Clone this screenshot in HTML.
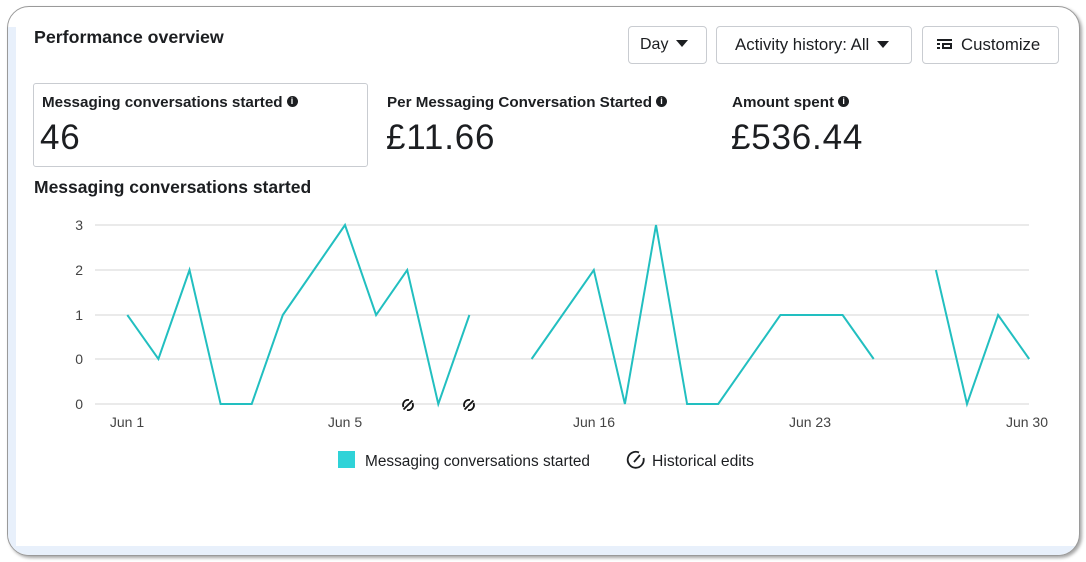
<!DOCTYPE html>
<html><head><meta charset="utf-8">
<style>
*{margin:0;padding:0;box-sizing:border-box;}
html,body{width:1086px;height:562px;background:#fff;overflow:hidden;font-family:"Liberation Sans",sans-serif;color:#1c1e21;}
.frame{position:absolute;left:7px;top:6px;width:1073px;height:550px;border:1.5px solid #9a9a9a;border-radius:22px;background:#fff;box-shadow:2px 2px 3px rgba(0,0,0,0.35);overflow:hidden;}
.lstrip{position:absolute;left:0;top:20px;width:8px;height:530px;background:#e8f0fb;}
.bstrip{position:absolute;left:0;bottom:0;width:100%;height:9px;background:#e8f0fb;}
.t{position:absolute;white-space:nowrap;}
.btn{position:absolute;top:26px;height:38px;border:1px solid #c9ccd1;border-radius:4px;background:#fff;font-size:16px;line-height:36px;color:#1c1e21;}
.caret{display:inline-block;width:0;height:0;border-left:6px solid transparent;border-right:6px solid transparent;border-top:7px solid #1c1e21;vertical-align:middle;margin-left:8px;margin-top:-3px;}
.info{display:inline-block;width:11px;height:11px;border-radius:50%;background:#1c1e21;color:#fff;font-size:9px;line-height:11px;text-align:center;font-weight:bold;vertical-align:middle;margin-left:4px;margin-top:-3px;}
.kbox{position:absolute;left:33px;top:83px;width:335px;height:84px;border:1px solid #c9ccd1;border-radius:3px;}
.lab{font-size:15.2px;font-weight:bold;color:#1c1e21;}
.big{font-size:35px;color:#1c1e21;letter-spacing:0.8px;}
</style></head><body>
<div class="frame"><div class="lstrip"></div><div class="bstrip"></div></div>

<div class="t" style="left:34px;top:27px;font-size:17.8px;font-weight:bold;">Performance overview</div>

<div class="btn" style="left:628px;width:79px;padding-left:11px;">Day<span class="caret"></span></div>
<div class="btn" style="left:716px;width:196px;padding-left:18px;font-size:16.8px;">Activity history: All<span class="caret"></span></div>
<div class="btn" style="left:922px;width:137px;padding-left:14px;font-size:16.8px;">
<svg width="16" height="12" viewBox="0 0 16 12" style="vertical-align:middle;margin-top:-3px;margin-right:8px;"><rect x="0" y="1" width="15" height="2" fill="#1c1e21"/><rect x="0" y="5" width="3" height="2" fill="#1c1e21"/><rect x="0" y="9" width="3" height="2" fill="#1c1e21"/><rect x="5" y="5" width="10" height="6" fill="#1c1e21"/><rect x="7" y="7" width="6" height="2" fill="#fff"/></svg>Customize</div>

<div class="kbox"></div>
<div class="t lab" style="left:42px;top:94px;">Messaging conversations started<span class="info">i</span></div>
<div class="t big" style="left:40px;top:118px;">46</div>
<div class="t lab" style="left:387px;top:94px;">Per Messaging Conversation Started<span class="info">i</span></div>
<div class="t big" style="left:386px;top:118px;">£11.66</div>
<div class="t lab" style="left:732px;top:94px;">Amount spent<span class="info">i</span></div>
<div class="t big" style="left:731px;top:118px;">£536.44</div>

<div class="t" style="left:34px;top:177px;font-size:17.5px;font-weight:bold;">Messaging conversations started</div>

<svg style="position:absolute;left:0;top:0;" width="1086" height="562" viewBox="0 0 1086 562">
<g stroke="#e3e3e3" stroke-width="1.5">
<line x1="95" y1="225" x2="1029" y2="225"/>
<line x1="95" y1="270" x2="1029" y2="270"/>
<line x1="95" y1="315" x2="1029" y2="315"/>
<line x1="95" y1="359" x2="1029" y2="359"/>
<line x1="95" y1="404" x2="1029" y2="404"/>
</g>
<g font-family="Liberation Sans, sans-serif" font-size="14" fill="#444" text-anchor="end">
<text x="83" y="230">3</text>
<text x="83" y="275">2</text>
<text x="83" y="320">1</text>
<text x="83" y="364">0</text>
<text x="83" y="409">0</text>
</g>
<g font-family="Liberation Sans, sans-serif" font-size="14" fill="#444" text-anchor="middle">
<text x="127" y="427">Jun 1</text>
<text x="345" y="427">Jun 5</text>
<text x="594" y="427">Jun 16</text>
<text x="810" y="427">Jun 23</text>
<text x="1027" y="427">Jun 30</text>
</g>
<g fill="none" stroke="#22bfc0" stroke-width="2" stroke-linejoin="miter">
<polyline points="127.3,315 158.4,359 189.5,270 220.6,404 251.7,404 282.8,315 313.9,270 345,225 376.1,315 407.2,270 438.3,404 469.4,315"/>
<polyline points="531.6,359 593.8,270 624.9,404 656,225 687.1,404 718.2,404 780.4,315 842.6,315 873.7,359"/>
<polyline points="935.9,270 967,404 998.1,315 1029.2,359"/>
</g>
<g fill="none" stroke="#111" stroke-width="1.8">
<g transform="translate(408,405)"><path d="M1,-5 A5,5 0 0 0 -4.5,2"/><path d="M-1,5 A5,5 0 0 0 4.5,-2"/><line x1="-4.5" y1="4.5" x2="4.5" y2="-4.5"/></g>
<g transform="translate(469,405)"><path d="M1,-5 A5,5 0 0 0 -4.5,2"/><path d="M-1,5 A5,5 0 0 0 4.5,-2"/><line x1="-4.5" y1="4.5" x2="4.5" y2="-4.5"/></g>
</g>
<rect x="338" y="451" width="17" height="17" fill="#2fd3d8"/>
<text x="365" y="466" font-family="Liberation Sans, sans-serif" font-size="15.4" fill="#1c1e21">Messaging conversations started</text>
<g fill="none" stroke="#1c1e21" stroke-width="1.8">
<path d="M639,452.5 A8,8 0 1 0 643.5,458"/>
<line x1="634" y1="462" x2="640" y2="455"/>
</g>
<text x="652" y="466" font-family="Liberation Sans, sans-serif" font-size="15.7" fill="#1c1e21">Historical edits</text>
</svg>
</body></html>
